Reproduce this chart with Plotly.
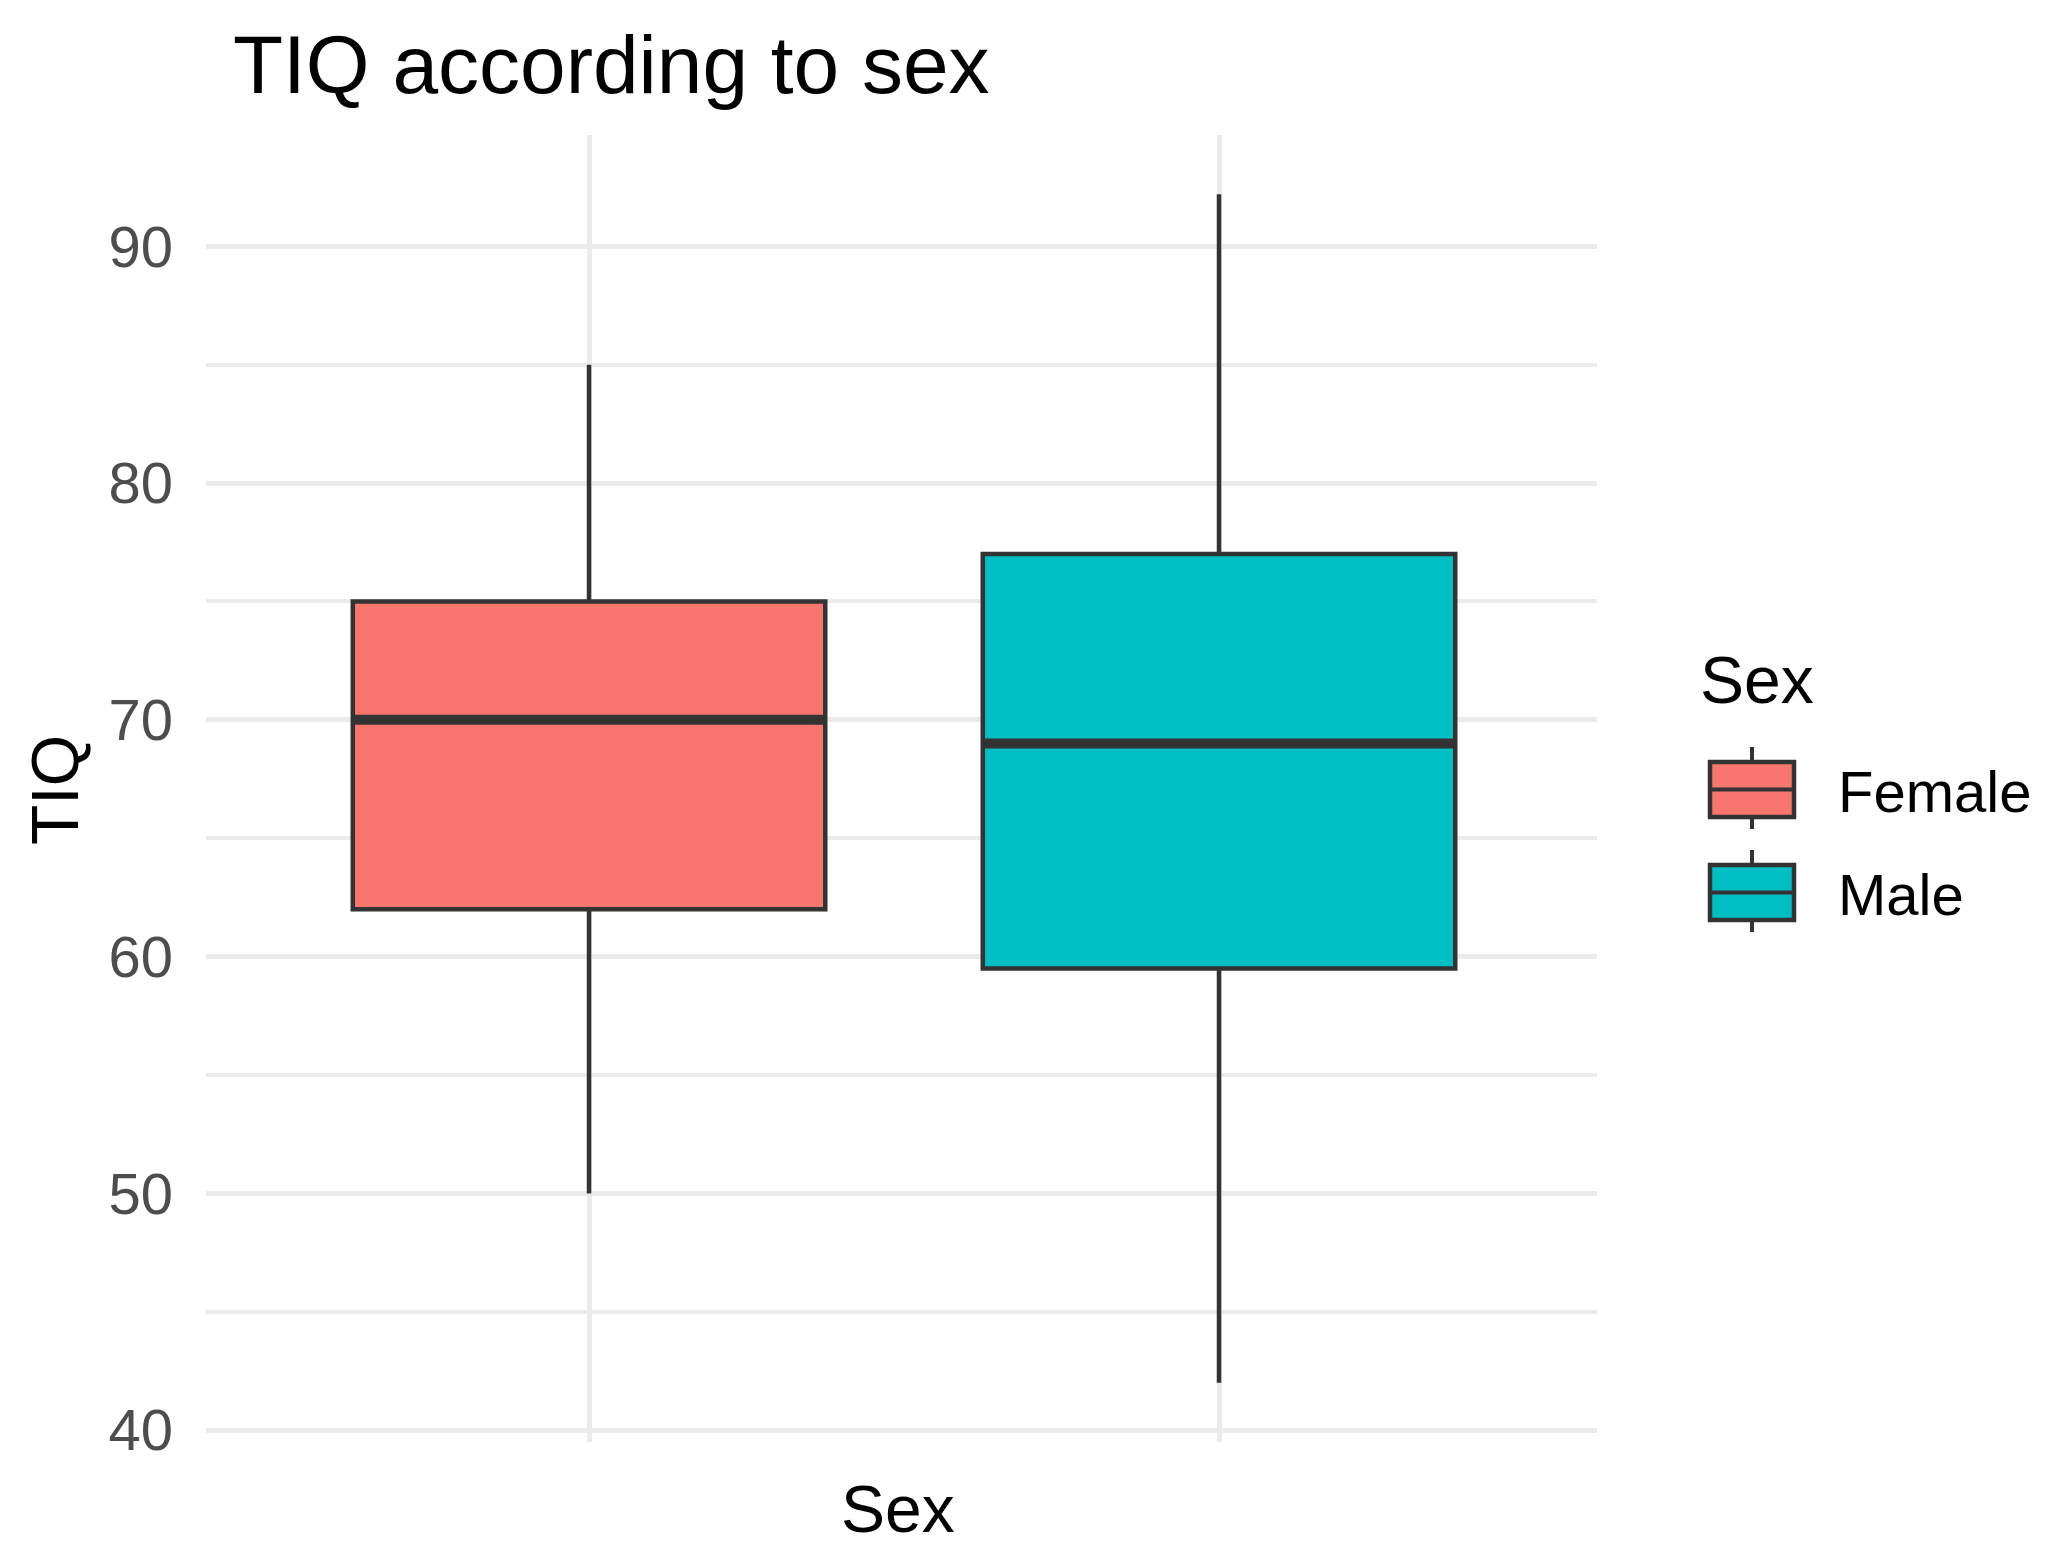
import plotly.graph_objects as go

# ---- data ----
categories = ["Female", "Male"]
lower_whisker = [50, 42]
q1_vals = [62, 59.5]
median_vals = [70, 69]
q3_vals = [75, 77]
upper_whisker = [85, 92.2]
fill_colors = ["#F8766D", "#00BFC4"]
y_ticks = [40, 50, 60, 70, 80, 90]

W, H = 2056, 1563
OFF = 8  # page body margin
# plot panel in page coordinates
L, R, T, B = 206, 1597, 135, 1442
PW, PH = R - L, B - T

def px(x):
    return (x - L) / PW

def py(y):
    return (B - y) / PH

LINE = "#333333"
GRID = "#EBEBEB"
FONT = "Liberation Sans, Arial, sans-serif"
BOXW = 0.75

fig = go.Figure()
positions = [1, 2]
for i, cat in enumerate(categories):
    pos = positions[i]
    fig.add_trace(go.Box(
        x=[pos], q1=[q1_vals[i]], median=[median_vals[i]], q3=[q3_vals[i]],
        lowerfence=[lower_whisker[i]], upperfence=[upper_whisker[i]],
        name=cat, width=BOXW, whiskerwidth=0, boxpoints=False,
        fillcolor=fill_colors[i], line=dict(color=LINE, width=4.5),
        showlegend=False, hoverinfo="skip",
    ))
    fig.add_trace(go.Scatter(
        x=[pos - BOXW / 2, pos + BOXW / 2], y=[median_vals[i], median_vals[i]],
        mode="lines", line=dict(color=LINE, width=10), showlegend=False,
        hoverinfo="skip",
    ))

fig.update_layout(
    width=W, height=H,
    margin=dict(l=L - OFF, r=W - (R - OFF), t=T - OFF, b=H - (B - OFF)),
    paper_bgcolor="white", plot_bgcolor="white",
    boxmode="overlay",
    font=dict(family=FONT, color="black"),
    title=dict(text="TIQ according to sex", xref="container", yref="container",
               x=(233 - OFF) / W, y=1 - (64 - OFF) / H, xanchor="left", yanchor="middle",
               font=dict(size=82, color="black", family=FONT)),
    xaxis=dict(range=[0.392, 2.6], tickvals=positions, showticklabels=False,
               showgrid=True, gridcolor=GRID, gridwidth=4.5, zeroline=False,
               showline=False, ticks=""),
    yaxis=dict(range=[39.5, 94.7], tickvals=y_ticks, showgrid=True,
               gridcolor=GRID, gridwidth=4.5, zeroline=False, showline=False,
               ticks="", ticklabelstandoff=32,
               tickfont=dict(size=58, color="#4D4D4D", family=FONT),
               minor=dict(tickvals=[45, 55, 65, 75, 85], showgrid=True,
                          gridcolor=GRID, gridwidth=3.5, ticks="")),
)

# axis titles
fig.add_annotation(text="Sex", xref="paper", yref="paper", x=px(898), y=py(1509),
                   xanchor="center", yanchor="middle", showarrow=False,
                   font=dict(size=66, color="black", family=FONT))
fig.add_annotation(text="TIQ", xref="paper", yref="paper", x=px(55), y=py(790),
                   xanchor="center", yanchor="middle", textangle=-90, showarrow=False,
                   font=dict(size=66, color="black", family=FONT))

# legend (drawn as keys)
fig.add_annotation(text="Sex", xref="paper", yref="paper", x=px(1698), y=py(680),
                   xanchor="left", yanchor="middle", showarrow=False,
                   font=dict(size=66, color="black", family=FONT))
key_tops = [762, 865]
for i, cat in enumerate(categories):
    top = key_tops[i]
    bot = top + 55
    cx = 1752
    fig.add_shape(type="line", xref="paper", yref="paper", x0=px(cx), x1=px(cx),
                  y0=py(top - 15), y1=py(bot + 12), line=dict(color=LINE, width=4))
    fig.add_shape(type="rect", xref="paper", yref="paper", x0=px(1710), x1=px(1794),
                  y0=py(top), y1=py(bot), fillcolor=fill_colors[i],
                  line=dict(color=LINE, width=4.5))
    fig.add_shape(type="line", xref="paper", yref="paper", x0=px(1710), x1=px(1794),
                  y0=py((top + bot) / 2), y1=py((top + bot) / 2),
                  line=dict(color=LINE, width=4))
    fig.add_annotation(text=cat, xref="paper", yref="paper", x=px(1836),
                       y=py((top + bot) / 2 + 2), xanchor="left", yanchor="middle",
                       showarrow=False, font=dict(size=58, color="black", family=FONT))

fig.write_html("out.html")
